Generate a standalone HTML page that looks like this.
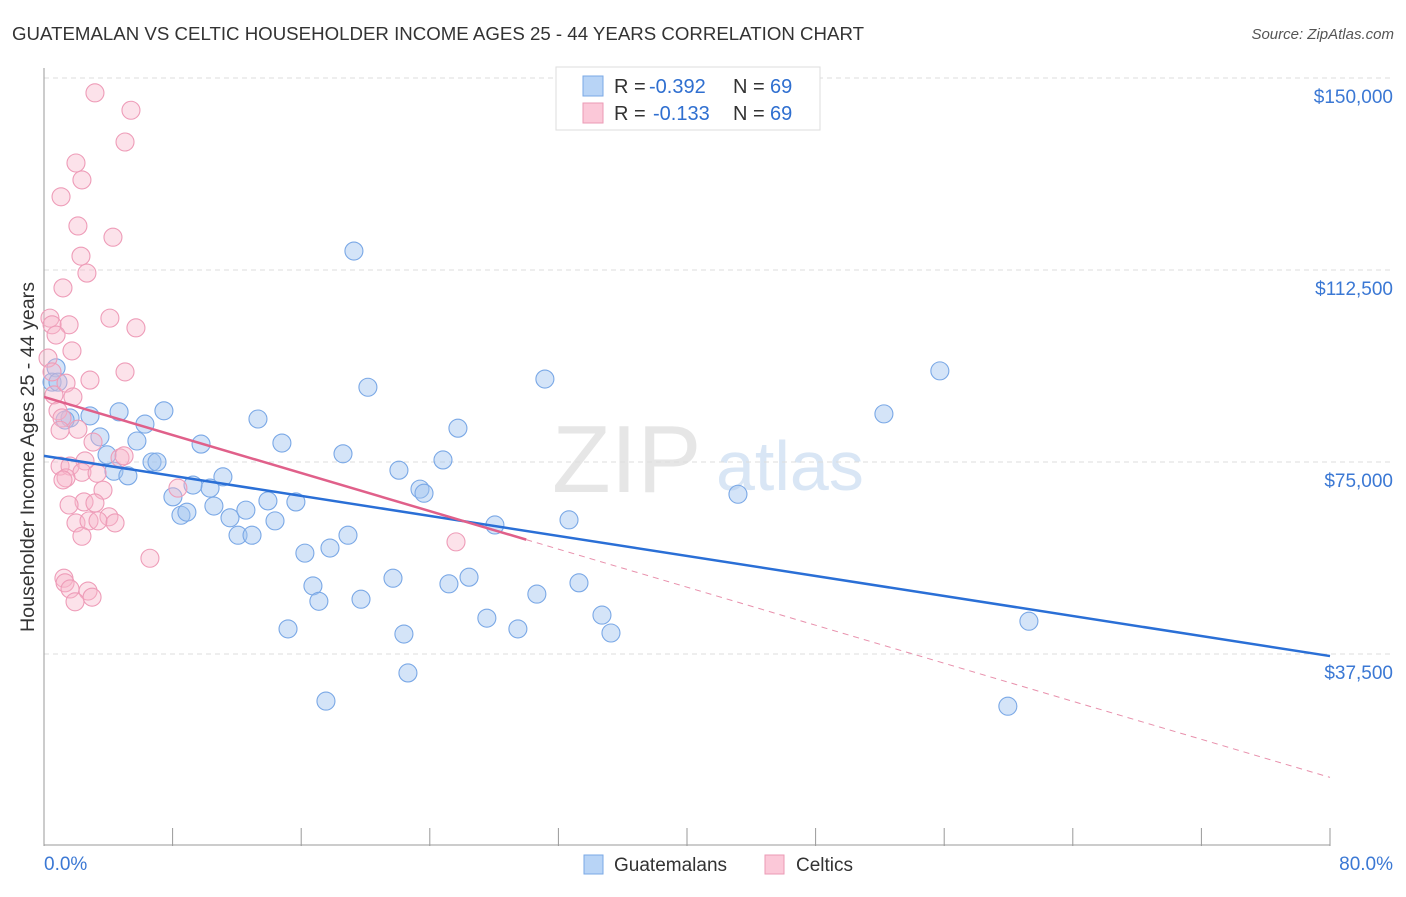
<!DOCTYPE html>
<html><head><meta charset="utf-8"><style>
body{margin:0;background:#fff;font-family:"Liberation Sans",sans-serif}
svg text{font-family:"Liberation Sans",sans-serif}
</style></head><body>
<svg id="c" width="1406" height="892" viewBox="0 0 1406 892">
<text x="12" y="40" font-size="18" fill="#333" textLength="852" lengthAdjust="spacingAndGlyphs">GUATEMALAN VS CELTIC HOUSEHOLDER INCOME AGES 25 - 44 YEARS CORRELATION CHART</text>
<text x="1394" y="39" font-size="15" fill="#555" font-style="italic" text-anchor="end">Source: ZipAtlas.com</text>
<text x="34" y="457" font-size="19" fill="#333" text-anchor="middle" textLength="350" lengthAdjust="spacingAndGlyphs" transform="rotate(-90 34 457)">Householder Income Ages 25 - 44 years</text>
<text x="552" y="492" font-size="96" fill="#e6e6e6" font-family="Liberation Serif">ZIP</text>
<text x="716" y="490" font-size="70" fill="#d9e6f5">atlas</text>
<g id="grid"></g><g id="pts"></g><g id="lines"></g>
<g>
<rect x="556" y="67" width="264" height="63" fill="#fff" stroke="#ddd"/>
<rect x="583" y="76" width="20" height="20" fill="#b8d4f6" stroke="#7aa8e6"/>
<rect x="583" y="103" width="20" height="20" fill="#fbc8d8" stroke="#eb9ab5"/>
<g font-size="20">
<text x="614" y="93" fill="#333">R =</text><text x="649" y="93" fill="#2f6fd0">-0.392</text>
<text x="733" y="93" fill="#333">N =</text><text x="770" y="93" fill="#2f6fd0">69</text></g>
<g font-size="20">
<text x="614" y="120" fill="#333">R =</text><text x="653" y="120" fill="#2f6fd0">-0.133</text>
<text x="733" y="120" fill="#333">N =</text><text x="770" y="120" fill="#2f6fd0">69</text></g>
</g>
<g>
<rect x="584" y="855" width="19" height="19" fill="#b8d4f6" stroke="#7aa8e6"/>
<text x="614" y="871" font-size="19" fill="#333">Guatemalans</text>
<rect x="765" y="855" width="19" height="19" fill="#fbc8d8" stroke="#eb9ab5"/>
<text x="796" y="871" font-size="19" fill="#333">Celtics</text>
</g>
</svg>
<script>
const yTicks=[150000,112500,75000,37500];
const yTickLabels=["$150,000","$112,500","$75,000","$37,500"];
const xTicks=[0,8,16,24,32,40,48,56,64,72,80];
const blueX=[0.75,0.5,0.87,1.62,2.86,1.31,3.48,4.67,6.28,7.46,3.92,5.78,4.35,5.22,6.72,7.03,9.77,11.13,10.33,8.02,8.52,8.89,9.27,10.57,11.57,12.07,12.94,12.56,13.31,14.8,13.93,14.37,15.67,16.23,16.73,17.1,15.18,17.79,18.6,18.91,19.28,20.15,19.72,21.71,22.08,22.39,22.64,23.39,23.64,24.82,25.75,25.19,26.44,27.55,28.05,29.48,30.66,31.16,32.66,33.28,34.71,35.27,17.54,43.17,52.25,55.73,61.27,59.96];
const blueY=[93.4,90.6,90.6,83.6,84.0,83.2,79.9,84.8,82.4,85.0,76.4,79.1,73.2,72.3,75.0,75.0,78.5,72.1,69.9,68.2,64.6,65.2,70.5,66.4,64.1,60.7,60.7,65.6,83.4,78.7,67.4,63.5,67.2,57.2,50.8,47.8,42.4,58.2,76.6,60.7,116.2,89.6,48.2,52.3,73.4,41.4,33.8,69.7,68.9,75.4,81.6,51.2,52.5,44.5,62.7,42.4,49.2,91.2,63.7,51.4,45.1,41.6,28.3,68.7,84.4,92.8,43.9,27.3];
const pinkX=[3.17,5.41,5.04,1.06,2.36,1.99,2.11,4.29,2.3,2.67,1.18,4.1,5.72,1.56,0.37,0.5,0.75,1.74,5.04,2.86,0.25,0.5,0.62,1.37,1.8,0.87,1.12,2.11,1.0,3.05,4.73,4.98,2.55,1.0,1.62,2.36,3.3,1.37,1.18,3.67,2.49,3.17,1.56,4.04,1.99,2.8,3.36,4.42,2.36,6.59,25.63,1.24,1.31,1.62,2.74,2.99,1.93,8.33];
const pinkY=[147.1,143.7,137.5,126.8,130.1,133.4,121.1,118.9,115.2,111.9,109.0,103.1,101.2,101.8,103.1,101.8,99.8,96.7,92.6,91.0,95.3,92.6,88.1,90.4,87.7,85.0,83.6,81.4,81.2,78.9,75.8,76.2,75.2,74.2,74.2,73.0,72.8,71.9,71.5,69.5,67.2,67.0,66.6,64.3,63.1,63.5,63.5,63.1,60.5,56.2,59.4,52.3,51.4,50.2,49.8,48.6,47.7,69.9];
const blueLine=[76.2,37.1];
const pinkLine=[87.7,13.4];
const pinkSolidEnd=30;
const NS="http://www.w3.org/2000/svg";
const X=v=>44+v/80*1286;
const Y=v=>846-v/37.5*192;
function mk(tag,attrs,parent){const e=document.createElementNS(NS,tag);for(const k in attrs)e.setAttribute(k,attrs[k]);parent.appendChild(e);return e;}
const grid=document.getElementById('grid');
yTicks.forEach((t,i)=>{
 const y=Y(t/1000);
 const l=mk('line',{x1:44,x2:1394,y1:y,y2:y,stroke:'#ddd','stroke-dasharray':'5,4'},grid);
 
 
 const tx=mk('text',{x:1393,y:y+25,'font-size':19,fill:'#3b78d4','text-anchor':'end'},grid);
 tx.textContent=yTickLabels[i];
 
 
});
const ax=mk('line',{x1:44,x2:44,y1:68,y2:846,stroke:'#999'},grid);


const bx=mk('line',{x1:44,x2:1330,y1:845,y2:845,stroke:'#999'},grid);


xTicks.forEach(t=>{
 const tk=mk('line',{x1:X(t),x2:X(t),y1:828,y2:846,stroke:'#999'},grid);
 
 
});
const xl0=mk('text',{x:44,y:870,'font-size':19,fill:'#3b78d4'},grid);xl0.textContent='0.0%';


const xl1=mk('text',{x:1393,y:870,'font-size':19,fill:'#3b78d4','text-anchor':'end'},grid);xl1.textContent='80.0%';


const pts=document.getElementById('pts');
blueX.forEach((v,i)=>{
 const c=mk('circle',{cx:X(v),cy:Y(blueY[i]),r:9,fill:'rgba(160,196,240,0.45)',stroke:'#7aa8e6','stroke-width':1.1},pts);
 
 
});
pinkX.forEach((v,i)=>{
 const c=mk('circle',{cx:X(v),cy:Y(pinkY[i]),r:9,fill:'rgba(248,182,202,0.4)',stroke:'#ee9cb8','stroke-width':1.1},pts);
 
 
});
const lines=document.getElementById('lines');
const pv=x=>pinkLine[0]+(pinkLine[1]-pinkLine[0])*x/80;
const b=mk('line',{x1:X(0),y1:Y(blueLine[0]),x2:X(80),y2:Y(blueLine[1]),stroke:'#2a6fd6','stroke-width':2.5},lines);


const p=mk('line',{x1:X(0),y1:Y(pv(0)),x2:X(pinkSolidEnd),y2:Y(pv(pinkSolidEnd)),stroke:'#e0608a','stroke-width':2.5},lines);


const pd=mk('line',{x1:X(pinkSolidEnd),y1:Y(pv(pinkSolidEnd)),x2:X(80),y2:Y(pv(80)),stroke:'#e890ac','stroke-width':1,'stroke-dasharray':'6,5'},lines);


</script>
</body></html>
